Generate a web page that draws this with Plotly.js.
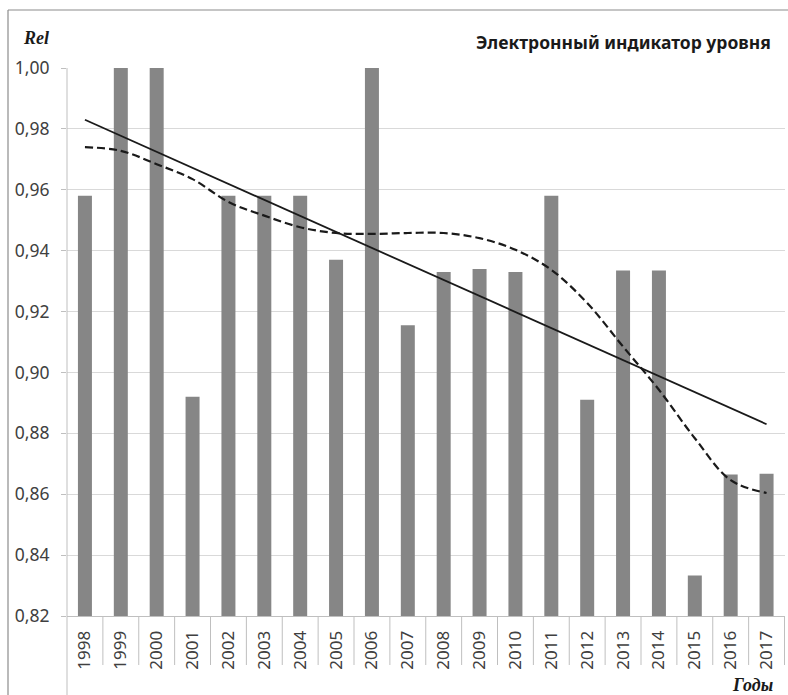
<!DOCTYPE html>
<html>
<head>
<meta charset="utf-8">
<script src="https://cdn.plot.ly/plotly-3.0.1.min.js"></script>
<style>html,body{margin:0;padding:0;background:#fff;}#chart{width:788px;height:695px;}</style>
</head>
<body>
<div id="chart"></div>
<script>
const years = ['1998','1999','2000','2001','2002','2003','2004','2005','2006','2007','2008','2009','2010','2011','2012','2013','2014','2015','2016','2017'];
const relValues = [0.958,1.000,1.000,0.892,0.958,0.958,0.958,0.937,1.000,0.9155,0.933,0.934,0.933,0.958,0.891,0.9335,0.9335,0.8333,0.8665,0.8667];
const polyTrend = [0.974,0.9728,0.9684,0.9635,0.956,0.9515,0.9477,0.9458,0.9455,0.9458,0.9458,0.9441,0.9403,0.9337,0.9228,0.9085,0.8943,0.8784,0.8646,0.8604];
const linearTrendEnds = [0.983,0.883];
const yTicks = [0.82,0.84,0.86,0.88,0.90,0.92,0.94,0.96,0.98,1.00];

const W = 788, H = 695;
const L = 67, R = 3, T = 68, B = 79;
const pw = W - L - R, ph = H - T - B;
const px = v => (v - L) / pw;         // pixel x -> paper
const py = v => (H - B - v) / ph;     // pixel y -> paper

const traces = [
  {type:'bar', x:years, y:relValues, marker:{color:'#868686'}, width:0.39, hoverinfo:'skip'},
  {type:'scatter', mode:'lines', x:[years[0], years[years.length-1]], y:linearTrendEnds,
   line:{color:'#1a1a1a', width:1.8}, hoverinfo:'skip'},
  {type:'scatter', mode:'lines', x:years, y:polyTrend,
   line:{color:'#1a1a1a', width:2.2, dash:'8px,4px', shape:'spline', smoothing:1}, hoverinfo:'skip'}
];

const shapes = [];
for (let i = 1; i <= years.length; i++) {
  shapes.push({type:'line', xref:'x', yref:'paper', x0:i-0.5, x1:i-0.5, y0:0, y1:py(665),
    line:{color:'#bfbfbf', width:1}});
}
shapes.push({type:'line', xref:'paper', yref:'paper', x0:0, x1:0, y0:1, y1:py(695), line:{color:'#bfbfbf', width:1}});
shapes.push({type:'line', xref:'paper', yref:'paper', x0:px(8), x1:px(8), y0:py(10), y1:py(695), line:{color:'#8c8c8c', width:1.2}});
shapes.push({type:'line', xref:'paper', yref:'paper', x0:px(8), x1:px(788), y0:py(10), y1:py(10), line:{color:'#8c8c8c', width:1.2}});

const layout = {
  width:W, height:H,
  margin:{l:L, r:R, t:T, b:B, pad:0},
  paper_bgcolor:'#fff', plot_bgcolor:'#fff',
  showlegend:false,
  separators:',.',
  bargap:0.61,
  font:{family:'Noto Sans, sans-serif', color:'#404040'},
  xaxis:{type:'category', showgrid:false, showline:true, linecolor:'#bfbfbf', linewidth:1,
    ticks:'', tickangle:-90, tickfont:{size:17, color:'#404040'}, ticklabelstandoff:7,
    zeroline:false, fixedrange:true},
  yaxis:{range:[0.82,1.0], tickvals:yTicks, tickformat:'.2f', showgrid:true, gridcolor:'#d9d9d9', gridwidth:1,
    showline:false, ticks:'outside', ticklen:5, tickcolor:'#bfbfbf', tickfont:{size:17.5, color:'#404040'},
    ticklabelstandoff:8, zeroline:false, fixedrange:true},
  shapes:shapes,
  annotations:[
    {xref:'paper', yref:'paper', x:px(21), y:py(38), xanchor:'left', yanchor:'middle', showarrow:false,
     text:'<b><i>Rel</i></b>', font:{family:'Liberation Serif, serif', size:18, color:'#1a1a1a'}},
    {xref:'paper', yref:'paper', x:px(775), y:py(685), xanchor:'right', yanchor:'middle', showarrow:false,
     text:'<b><i>Годы</i></b>', font:{family:'Liberation Serif, serif', size:18, color:'#1a1a1a'}},
    {xref:'paper', yref:'paper', x:px(773), y:py(42), xanchor:'right', yanchor:'middle', showarrow:false,
     text:'<b>Электронный индикатор уровня</b>', font:{family:'Noto Sans, sans-serif', size:17.5, color:'#1a1a1a'}}
  ]
};

Plotly.newPlot('chart', traces, layout, {displayModeBar:false, staticPlot:true});
</script>
</body>
</html>
